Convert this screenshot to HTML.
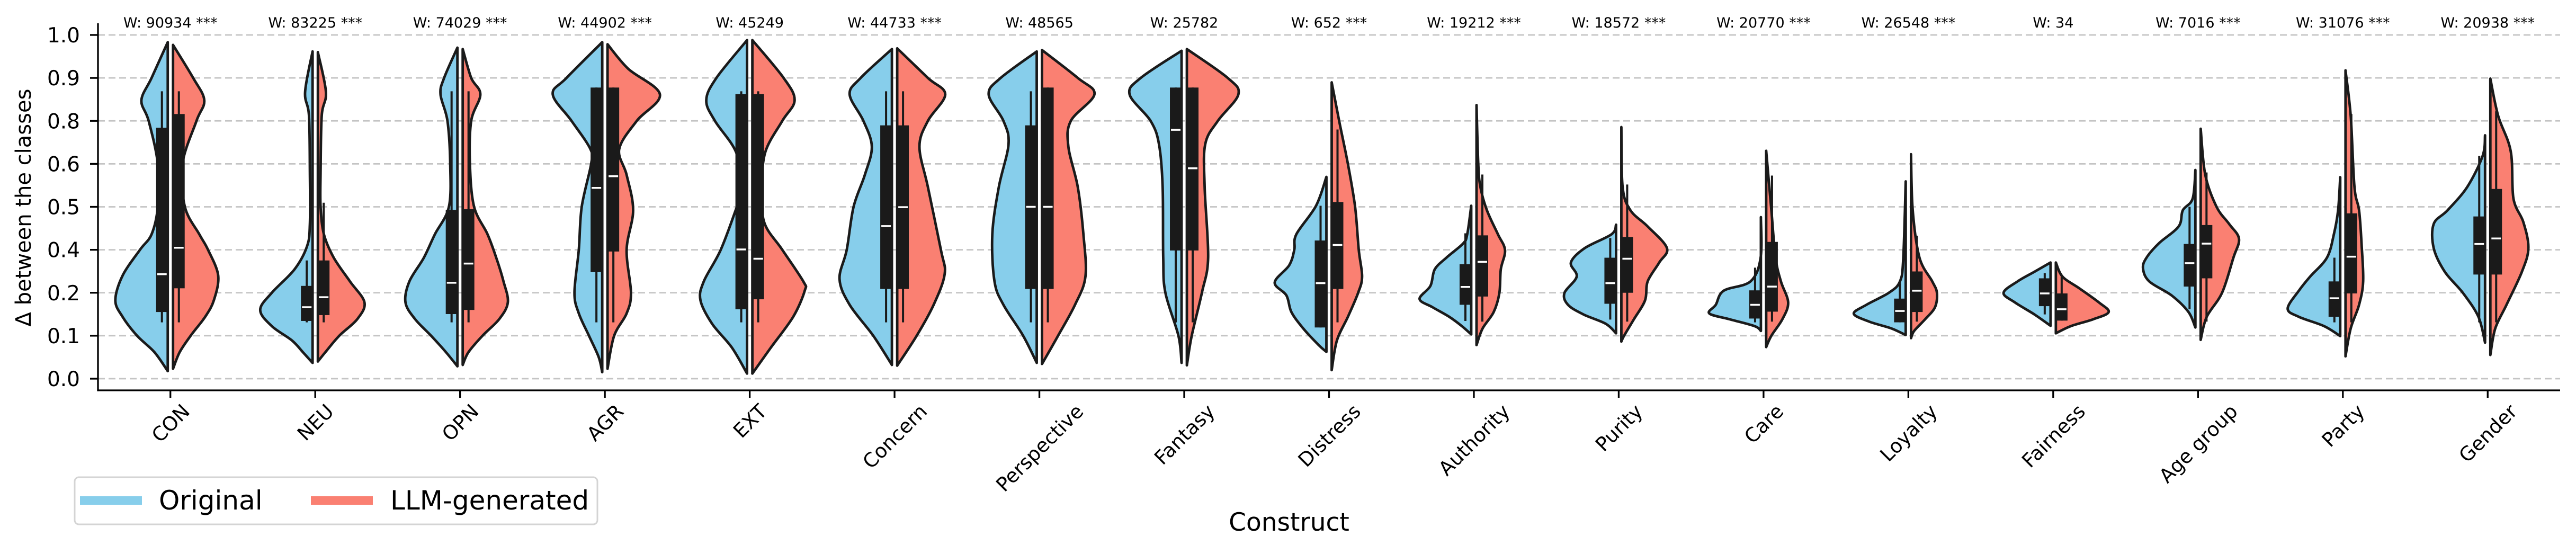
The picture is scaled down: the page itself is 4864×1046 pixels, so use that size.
<!DOCTYPE html>
<html><head><meta charset="utf-8"><style>
html,body{margin:0;padding:0;background:#fff}
svg{display:block}
text{font-family:"DejaVu Sans","Liberation Sans",sans-serif;fill:#000}
</style></head><body>
<svg id="chart" width="4864" height="1046" viewBox="0 0 4864 1046" xmlns="http://www.w3.org/2000/svg">
<g id="grid"></g>
<g id="violins"></g>
<g id="axes"></g>
<text transform="translate(58,392) rotate(-90)" text-anchor="middle" font-size="40">Δ between the classes</text>
<text x="2434" y="1002" text-anchor="middle" font-size="47">Construct</text>
<g>
<rect x="141" y="901" width="987" height="89" rx="8" fill="#fff" stroke="#d4d4d4" stroke-width="3"/>
<g>
<rect x="151" y="937" width="117" height="16" fill="#87CEEB"/>
<text x="300" y="962" font-size="50">Original</text>
</g>
<g>
<rect x="587" y="937" width="117" height="16" fill="#FA8072"/>
<text x="737" y="962" font-size="50">LLM-generated</text>
</g>
</g>
</svg>
<script>
const categories=["CON","NEU","OPN","AGR","EXT","Concern","Perspective","Fantasy","Distress","Authority","Purity","Care","Loyalty","Fairness","Age group","Party","Gender"];
const wLabels=["W: 90934 ***","W: 83225 ***","W: 74029 ***","W: 44902 ***","W: 45249","W: 44733 ***","W: 48565","W: 25782","W: 652 ***","W: 19212 ***","W: 18572 ***","W: 20770 ***","W: 26548 ***","W: 34","W: 7016 ***","W: 31076 ***","W: 20938 ***"];
const yTicks=[0,0.125,0.25,0.375,0.5,0.625,0.75,0.875,1.0];
const yTickLabels=["0.0","0.1","0.2","0.4","0.5","0.6","0.8","0.9","1.0"];
// density profiles: [value, half-width in category units]
const origProfile=[
[[0.979,0],[0.875,0.13],[0.81,0.20],[0.75,0.15],[0.625,0.087],[0.5,0.087],[0.42,0.13],[0.375,0.21],[0.30,0.33],[0.228,0.38],[0.18,0.33],[0.125,0.23],[0.077,0.11],[0.022,0]],
[[0.952,0],[0.834,0.07],[0.765,0.043],[0.6,0.037],[0.45,0.037],[0.386,0.056],[0.318,0.143],[0.25,0.30],[0.20,0.38],[0.153,0.30],[0.111,0.16],[0.077,0.085],[0.046,0]],
[[0.963,0],[0.875,0.11],[0.827,0.135],[0.75,0.087],[0.625,0.068],[0.5,0.077],[0.42,0.174],[0.352,0.25],[0.283,0.35],[0.222,0.377],[0.173,0.31],[0.125,0.2],[0.077,0.097],[0.036,0]],
[[0.979,0],[0.875,0.265],[0.827,0.36],[0.75,0.23],[0.668,0.10],[0.625,0.095],[0.5,0.16],[0.375,0.18],[0.25,0.21],[0.19,0.18],[0.125,0.11],[0.063,0.043],[0.019,0]],
[[0.985,0],[0.875,0.23],[0.81,0.30],[0.75,0.24],[0.66,0.095],[0.557,0.046],[0.5,0.089],[0.375,0.2],[0.283,0.317],[0.228,0.34],[0.16,0.26],[0.091,0.124],[0.015,0]],
[[0.959,0],[0.875,0.234],[0.827,0.31],[0.75,0.215],[0.675,0.157],[0.593,0.205],[0.5,0.283],[0.375,0.33],[0.29,0.38],[0.215,0.31],[0.125,0.147],[0.04,0]],
[[0.952,0],[0.875,0.267],[0.827,0.35],[0.75,0.248],[0.682,0.213],[0.558,0.28],[0.42,0.325],[0.283,0.31],[0.215,0.248],[0.125,0.112],[0.046,0]],
[[0.954,0],[0.875,0.3],[0.827,0.377],[0.75,0.232],[0.682,0.174],[0.558,0.149],[0.352,0.145],[0.25,0.13],[0.125,0.04],[0.046,0]],
[[0.587,0],[0.503,0.09],[0.42,0.226],[0.375,0.24],[0.33,0.275],[0.28,0.375],[0.242,0.294],[0.194,0.26],[0.146,0.178],[0.098,0.072],[0.078,0]],
[[0.503,0],[0.42,0.046],[0.393,0.075],[0.352,0.19],[0.318,0.27],[0.27,0.30],[0.232,0.375],[0.208,0.286],[0.18,0.17],[0.153,0.083],[0.129,0]],
[[0.448,0],[0.42,0.05],[0.38,0.234],[0.338,0.33],[0.297,0.29],[0.249,0.375],[0.215,0.35],[0.187,0.244],[0.16,0.09],[0.132,0]],
[[0.47,0],[0.352,0.02],[0.283,0.09],[0.256,0.275],[0.215,0.33],[0.19,0.375],[0.173,0.236],[0.153,0.062],[0.139,0]],
[[0.574,0],[0.352,0.035],[0.283,0.058],[0.25,0.135],[0.215,0.29],[0.189,0.377],[0.166,0.27],[0.146,0.116],[0.127,0]],
[[0.338,0],[0.311,0.13],[0.283,0.246],[0.25,0.343],[0.222,0.265],[0.187,0.13],[0.154,0]],
[[0.607,0],[0.524,0.037],[0.49,0.105],[0.443,0.134],[0.394,0.27],[0.352,0.356],[0.321,0.38],[0.283,0.337],[0.242,0.182],[0.194,0.066],[0.149,0]],
[[0.586,0],[0.49,0.033],[0.42,0.062],[0.352,0.11],[0.297,0.226],[0.256,0.304],[0.204,0.381],[0.18,0.304],[0.153,0.13],[0.124,0]],
[[0.708,0],[0.648,0.035],[0.558,0.141],[0.49,0.277],[0.45,0.373],[0.38,0.373],[0.311,0.296],[0.249,0.17],[0.18,0.064],[0.105,0]]
];
const llmProfile=[
[[0.971,0],[0.875,0.157],[0.81,0.234],[0.75,0.18],[0.625,0.083],[0.5,0.10],[0.42,0.2],[0.375,0.26],[0.30,0.33],[0.228,0.30],[0.18,0.24],[0.125,0.14],[0.077,0.064],[0.029,0]],
[[0.95,0],[0.834,0.074],[0.765,0.045],[0.6,0.037],[0.5,0.037],[0.42,0.06],[0.352,0.128],[0.283,0.24],[0.222,0.34],[0.173,0.29],[0.125,0.166],[0.077,0.07],[0.05,0]],
[[0.959,0],[0.875,0.077],[0.827,0.14],[0.75,0.077],[0.625,0.068],[0.5,0.097],[0.42,0.19],[0.352,0.25],[0.283,0.30],[0.222,0.33],[0.173,0.27],[0.125,0.155],[0.077,0.058],[0.04,0]],
[[0.973,0],[0.902,0.16],[0.827,0.38],[0.75,0.22],[0.668,0.099],[0.593,0.15],[0.49,0.195],[0.375,0.15],[0.25,0.18],[0.19,0.15],[0.125,0.064],[0.029,0]],
[[0.985,0],[0.875,0.234],[0.81,0.31],[0.75,0.225],[0.66,0.108],[0.557,0.085],[0.455,0.1],[0.375,0.225],[0.283,0.37],[0.256,0.38],[0.18,0.3],[0.091,0.147],[0.015,0]],
[[0.961,0],[0.875,0.23],[0.827,0.35],[0.75,0.23],[0.675,0.172],[0.558,0.23],[0.375,0.32],[0.304,0.346],[0.215,0.27],[0.125,0.153],[0.038,0]],
[[0.956,0],[0.875,0.265],[0.827,0.38],[0.75,0.217],[0.675,0.2],[0.558,0.265],[0.42,0.304],[0.297,0.318],[0.215,0.246],[0.125,0.129],[0.043,0]],
[[0.959,0],[0.875,0.3],[0.827,0.374],[0.75,0.232],[0.682,0.145],[0.558,0.141],[0.352,0.165],[0.25,0.122],[0.125,0.052],[0.039,0]],
[[0.862,0],[0.75,0.07],[0.625,0.13],[0.5,0.18],[0.375,0.205],[0.297,0.228],[0.249,0.2],[0.18,0.13],[0.111,0.054],[0.025,0]],
[[0.796,0],[0.627,0.03],[0.558,0.045],[0.49,0.09],[0.42,0.166],[0.374,0.215],[0.318,0.186],[0.249,0.176],[0.194,0.137],[0.146,0.06],[0.098,0]],
[[0.732,0],[0.558,0.027],[0.49,0.081],[0.443,0.2],[0.38,0.333],[0.338,0.28],[0.283,0.2],[0.228,0.182],[0.173,0.105],[0.125,0.037],[0.108,0]],
[[0.663,0],[0.49,0.054],[0.352,0.083],[0.283,0.12],[0.222,0.17],[0.173,0.13],[0.125,0.054],[0.092,0]],
[[0.653,0],[0.49,0.03],[0.352,0.077],[0.283,0.165],[0.25,0.197],[0.208,0.184],[0.173,0.116],[0.139,0.04],[0.118,0]],
[[0.338,0],[0.297,0.064],[0.263,0.18],[0.222,0.315],[0.194,0.383],[0.173,0.277],[0.153,0.122],[0.132,0]],
[[0.727,0],[0.593,0.05],[0.5,0.128],[0.45,0.215],[0.407,0.283],[0.352,0.244],[0.25,0.166],[0.18,0.06],[0.113,0]],
[[0.897,0],[0.765,0.054],[0.558,0.08],[0.49,0.112],[0.387,0.13],[0.283,0.14],[0.215,0.112],[0.146,0.054],[0.065,0]],
[[0.873,0],[0.765,0.072],[0.662,0.159],[0.524,0.178],[0.456,0.246],[0.38,0.281],[0.311,0.236],[0.215,0.13],[0.146,0.052],[0.069,0]]
];
// box stats: [q1, median, q3, whiskerLow, whiskerHigh]
const origBox=[[0.194,0.304,0.73,0.164,0.836],[0.168,0.208,0.27,0.164,0.344],[0.188,0.279,0.491,0.164,0.836],[0.31,0.555,0.847,0.164,0.847],[0.202,0.376,0.828,0.164,0.836],[0.261,0.444,0.737,0.164,0.836],[0.261,0.5,0.737,0.164,0.836],[0.373,0.724,0.847,0.164,0.847],[0.149,0.278,0.402,0.149,0.503],[0.215,0.267,0.333,0.168,0.423],[0.218,0.278,0.352,0.172,0.409],[0.175,0.215,0.257,0.164,0.323],[0.164,0.197,0.233,0.164,0.278],[0.211,0.248,0.292,0.187,0.307],[0.268,0.336,0.392,0.202,0.5],[0.18,0.234,0.283,0.164,0.352],[0.303,0.392,0.472,0.164,0.648]];
const llmBox=[[0.263,0.381,0.77,0.164,0.836],[0.185,0.237,0.344,0.164,0.512],[0.2,0.335,0.493,0.164,0.836],[0.37,0.589,0.847,0.164,0.847],[0.231,0.349,0.828,0.164,0.836],[0.261,0.499,0.737,0.164,0.836],[0.261,0.5,0.847,0.164,0.847],[0.373,0.612,0.847,0.164,0.847],[0.261,0.389,0.514,0.164,0.725],[0.239,0.34,0.417,0.166,0.594],[0.25,0.349,0.412,0.166,0.565],[0.195,0.268,0.398,0.166,0.591],[0.194,0.256,0.312,0.166,0.416],[0.169,0.202,0.248,0.169,0.297],[0.292,0.393,0.447,0.166,0.6],[0.248,0.355,0.481,0.164,0.77],[0.303,0.408,0.552,0.164,0.778]];

const NS="http://www.w3.org/2000/svg";
const X0=185,X1=4834,Y0=715,Y1=66,AXB=737,AXT=44;
const step=(X1-X0)/categories.length;
function xs(i){return X0+step*(i+0.5);}
function ys(v){return Y0-(Y0-Y1)*v;}
function mk(tag,attrs,parent){const e=document.createElementNS(NS,tag);for(const k in attrs)e.setAttribute(k,attrs[k]);parent.appendChild(e);return e;}
const grid=document.getElementById('grid'),vio=document.getElementById('violins'),axes=document.getElementById('axes');

yTicks.forEach((t,i)=>{
  const g=mk('line',{x1:X0,x2:X1,y1:ys(t),y2:ys(t),stroke:'#c4c4c4','stroke-width':2.7,'stroke-dasharray':'13 7'},grid);
  
  
  const tk=mk('line',{x1:X0-15,x2:X0,y1:ys(t),y2:ys(t),stroke:'#000','stroke-width':3.3},axes);
  
  
  const lb=mk('text',{x:151,y:ys(t)+14,'text-anchor':'end','font-size':39},axes);
  lb.textContent=yTickLabels[i];
  
  
});

function smoothPath(pts){
  let d='M'+pts[0][0].toFixed(1)+','+pts[0][1].toFixed(1);
  for(let i=0;i<pts.length-1;i++){
    const p0=pts[Math.max(0,i-1)],p1=pts[i],p2=pts[i+1],p3=pts[Math.min(pts.length-1,i+2)];
    const c1=[p1[0]+(p2[0]-p0[0])/6,p1[1]+(p2[1]-p0[1])/6];
    const c2=[p2[0]-(p3[0]-p1[0])/6,p2[1]-(p3[1]-p1[1])/6];
    d+=' C'+c1[0].toFixed(1)+','+c1[1].toFixed(1)+' '+c2[0].toFixed(1)+','+c2[1].toFixed(1)+' '+p2[0].toFixed(1)+','+p2[1].toFixed(1);
  }
  return d;
}
const GAP=5;
function half(i,prof,side,color,name){
  const c=xs(i);
  const pts=prof.map(p=>[c+side*Math.max(p[1]*step,GAP),ys(p[0])]);
  const top=prof[0][0],bot=prof[prof.length-1][0];
  let d='M'+(c+side*GAP)+','+ys(top)+' L'+pts[0][0]+','+pts[0][1]+' '+smoothPath(pts).slice(1).replace(/^[^C]*/,'')+' L'+(c+side*GAP)+','+ys(bot)+' Z';
  const p=mk('path',{d:d,fill:color,stroke:'#1a1a1a','stroke-width':4.8,'stroke-linejoin':'round'},vio);
  
  
}
function box(i,b,side,name){
  const cx=xs(i)+side*16;
  const w=mk('line',{x1:cx,x2:cx,y1:ys(b[3]),y2:ys(b[4]),stroke:'#1a1a1a','stroke-width':4},vio);
  
  
  const r=mk('rect',{x:cx-11,width:22,y:ys(b[2]),height:ys(b[0])-ys(b[2]),fill:'#1a1a1a'},vio);
  
  
  const m=mk('line',{x1:cx-9,x2:cx+9,y1:ys(b[1]),y2:ys(b[1]),stroke:'#fff','stroke-width':3.5},vio);
  
  
}
categories.forEach((cat,i)=>{
  half(i,origProfile[i],-1,'#87CEEB','violin-original-'+i);
  half(i,llmProfile[i],1,'#FA8072','violin-llm-'+i);
  box(i,origBox[i],-1,'original-'+i);
  box(i,llmBox[i],1,'llm-'+i);
  const wl=mk('text',{x:xs(i),y:52,'text-anchor':'middle','font-size':27},axes);
  wl.textContent=wLabels[i];
  
  
  const tk=mk('line',{x1:xs(i),x2:xs(i),y1:AXB,y2:AXB+14,stroke:'#000','stroke-width':3.3},axes);
  
  
  const t=mk('text',{'text-anchor':'end','font-size':37},axes);
  t.textContent=cat;
  
  
  const L=t.getComputedTextLength();
  const asc=27;
  const ax=xs(i)+0.354*(L+asc), ay=760+0.707*asc;
  t.setAttribute('transform','translate('+ax+','+ay+') rotate(-45)');
});
const ya=mk('line',{x1:X0,x2:X0,y1:AXT,y2:AXB+1.6,stroke:'#000','stroke-width':3.3},axes);


const xa=mk('line',{x1:X0-1.6,x2:X1,y1:AXB,y2:AXB,stroke:'#000','stroke-width':3.3},axes);


</script>
</body></html>
